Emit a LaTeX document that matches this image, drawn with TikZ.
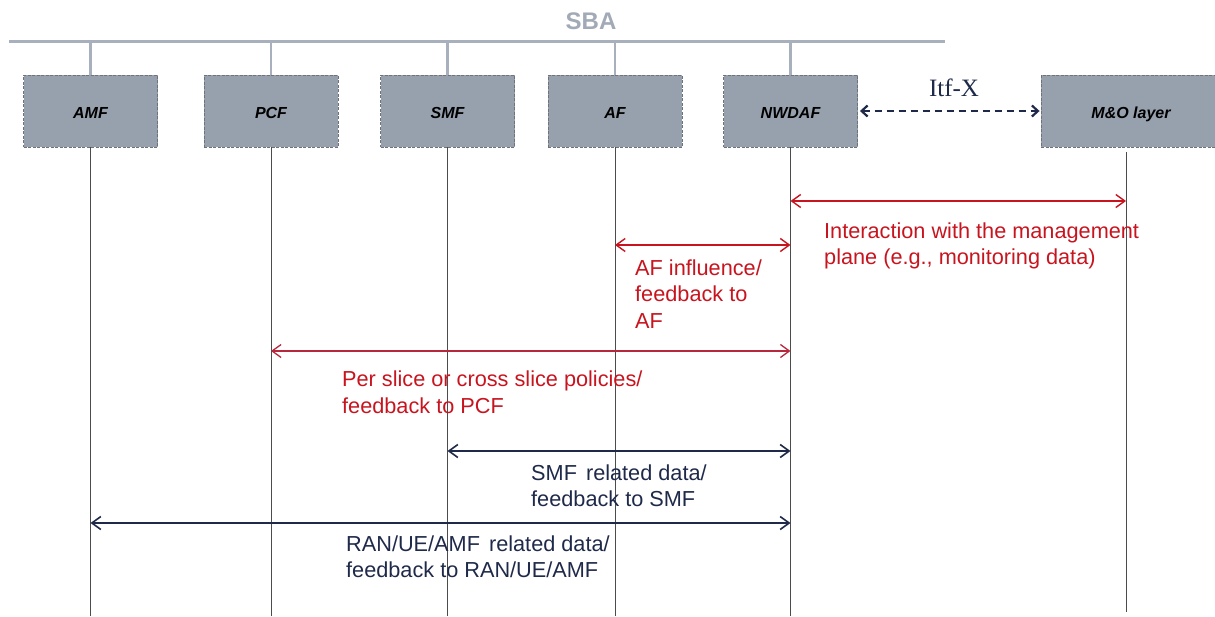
\documentclass[tikz,border=0pt]{standalone}
\usepackage{fontspec}
\setmainfont{Liberation Sans}
\newfontfamily\itffont{Liberation Serif}
\usetikzlibrary{arrows.meta}

\definecolor{boxfill}{HTML}{97A1AD}
\definecolor{boxedge}{HTML}{6E737B}
\definecolor{busgray}{HTML}{A7B0BC}
\definecolor{sbagray}{HTML}{A1AAB6}
\definecolor{lifegray}{HTML}{4C4C4C}
\definecolor{mgmtred}{HTML}{C8141E}
\definecolor{pcfred}{HTML}{B8283C}
\definecolor{navy}{HTML}{1F2A4A}

\begin{document}
\begin{tikzpicture}[x=1pt,y=-1pt,
  nf/.style={draw=boxedge, fill=boxfill, line width=0.9pt,
    dash pattern=on 3pt off 1.5pt, minimum width=134pt, minimum height=72pt,
    inner sep=0pt, text height=15.5pt, text depth=0pt,
    font=\fontsize{16}{19}\selectfont\bfseries\itshape},
  life/.style={draw=lifegray, line width=0.9pt},
  stub/.style={draw=busgray, line width=2.6pt},
  barbs/.style={{Straight Barb[length=9pt,width=13pt]}-{Straight Barb[length=9pt,width=13pt]}},
  redarr/.style={barbs, draw=mgmtred, line width=1.4pt},
  pcfarr/.style={barbs, draw=pcfred, line width=1.3pt},
  navyarr/.style={barbs, draw=navy, line width=1.6pt},
  itfarr/.style={{Straight Barb[length=6pt,width=11pt]}-{Straight Barb[length=6pt,width=11pt]},
    draw=navy, line width=2.2pt, dash pattern=on 7pt off 5pt},
  % labels are placed by the baseline of their last line
  lbl/.style={anchor=base west, align=left, inner sep=0pt,
    font=\fontsize{21.7}{26.5}\selectfont}
]
\useasboundingbox (0,0) rectangle (1215,616);

% service bus
\node[font=\fontsize{24}{28}\selectfont\bfseries, text=sbagray] (sba) at (591,21) {SBA};
\coordinate (busL) at (9,41);
\coordinate (busR) at (945,41);
\draw[busgray, line width=3pt] (busL) -- (busR);

% network functions
\node[nf] (amf)   at (90.5,111)  {AMF};
\node[nf] (pcf)   at (271,111)   {PCF};
\node[nf] (smf)   at (447.5,111) {SMF};
\node[nf] (af)    at (615,111)   {AF};
\node[nf] (nwdaf) at (790.5,111) {NWDAF};
\node[nf, minimum width=180pt] (mo) at (1131,111) {M\&O layer};

% bus stubs
\foreach \n in {amf,pcf,smf,af,nwdaf}
  \draw[stub] (\n.north) -- (\n.north |- busL);

% lifelines
\coordinate (bottom) at (0,616);
\foreach \n in {amf,pcf,smf,af,nwdaf}
  \draw[life] (\n.south) -- (\n.south |- bottom);
\coordinate (motop) at (1126,152);
\coordinate (mobot) at (1126,612);
\draw[life] (motop) -- (mobot);

% Itf-X interface
\draw[itfarr] ([xshift=2pt]nwdaf.east) -- ([xshift=-1pt]mo.west);
\node[font=\itffont\fontsize{25}{29}\selectfont, text=navy] (itf) at (954,88) {Itf-X};

% interactions
\draw[redarr]  (nwdaf.south |- 0,201) -- (motop |- 0,201);
\node[lbl, text=mgmtred] (mgmt) at (824,264.5)
  {Interaction with the management\\plane (e.g., monitoring data)};

\draw[redarr]  (af.south |- 0,245) -- (nwdaf.south |- 0,245);
\node[lbl, text=mgmtred] (afl) at (635,328)
  {AF influence/\\feedback to\\AF};

\draw[pcfarr]  (pcf.south |- 0,351) -- (nwdaf.south |- 0,351);
\node[lbl, text=mgmtred] (pcfl) at (342,413)
  {Per slice or cross slice policies/\\feedback to PCF};

\draw[navyarr] (smf.south |- 0,451) -- (nwdaf.south |- 0,451);
\node[lbl, text=navy] (smfl) at (531,506.5)
  {SMF\hspace{3pt} related data/\\feedback to SMF};

\draw[navyarr] (amf.south |- 0,523) -- (nwdaf.south |- 0,523);
\node[lbl, text=navy] (amfl) at (346,577.5)
  {RAN/UE/AMF\hspace{3pt} related data/\\feedback to RAN/UE/AMF};
\end{tikzpicture}
\end{document}
